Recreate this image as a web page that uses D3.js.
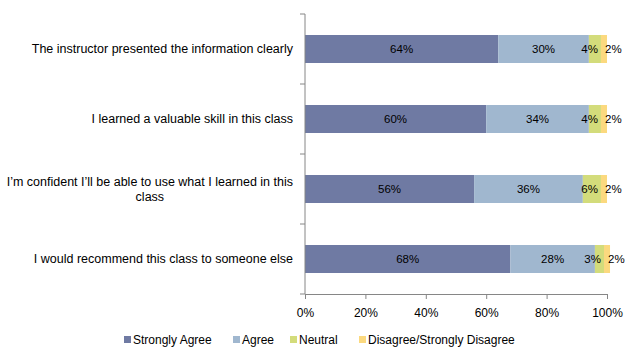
<!DOCTYPE html>
<html>
<head>
<meta charset="utf-8">
<script src="https://cdn.jsdelivr.net/npm/d3@7"></script>
<style>
  body { margin: 0; background: #fff; }
  text { font-family: "Liberation Sans", Arial, sans-serif; fill: #000; }
</style>
</head>
<body>
<div id="chart"></div>
<script>
// Chart size
var width = 637;
var height = 360;

// Survey data (percent of responses)
var categories = [
  "The instructor presented the information clearly",
  "I learned a valuable skill in this class",
  "I\u2019m confident I\u2019ll be able to use what I learned in this class",
  "I would recommend this class to someone else"
];
var seriesNames = ["Strongly Agree", "Agree", "Neutral", "Disagree/Strongly Disagree"];
var stronglyAgree = [64, 60, 56, 68];
var agree = [30, 34, 36, 28];
var neutral = [4, 4, 6, 3];
var disagree = [2, 2, 2, 2];
var xTicks = [0, 20, 40, 60, 80, 100];

var colors = ["#6f7aa3", "#a0b7cf", "#d3dc7b", "#fbd97f"];

var margin = { top: 14, left: 305, right: 30, bottom: 66 };

var svg = d3.select("#chart").append("svg")
  .attr("width", width)
  .attr("height", height);

svg.append("rect").attr("width", width).attr("height", height).attr("fill", "#fff");

var x = d3.scaleLinear()
  .domain([0, 100])
  .range([margin.left, 607]);

var y = d3.scaleBand()
  .domain(categories)
  .range([margin.top, height - margin.bottom])
  .paddingInner(0.6)
  .paddingOuter(0.3);

// Build rows for the stack layout
var rows = categories.map(function(c, i) {
  return {
    category: c,
    "Strongly Agree": stronglyAgree[i],
    "Agree": agree[i],
    "Neutral": neutral[i],
    "Disagree/Strongly Disagree": disagree[i]
  };
});

var stack = d3.stack().keys(seriesNames);
var layers = stack(rows);

var g = svg.append("g");

var layer = g.selectAll("g.layer")
  .data(layers)
  .enter().append("g")
  .attr("class", "layer")
  .attr("fill", function(d, i) { return colors[i]; });

layer.selectAll("rect")
  .data(function(d) { return d; })
  .enter().append("rect")
  .attr("x", function(d) { return x(d[0]); })
  .attr("width", function(d) { return x(d[1]) - x(d[0]); })
  .attr("y", function(d) { return y(d.data.category); })
  .attr("height", y.bandwidth());

// Value labels; the two small segments get nudged like Excel does
layer.selectAll("text")
  .data(function(d, i) { return d.map(function(p) { return { p: p, s: i }; }); })
  .enter().append("text")
  .attr("x", function(d) {
    if (d.s == 3) return x(d.p[1]) - 2;
    if (d.s == 2) return x(d.p[1]) - 3;
    return (x(d.p[0]) + x(d.p[1])) / 2;
  })
  .attr("y", function(d) { return y(d.p.data.category) + y.bandwidth() / 2; })
  .attr("dy", "0.35em")
  .attr("text-anchor", function(d) {
    if (d.s == 3) return "start";
    if (d.s == 2) return "end";
    return "middle";
  })
  .style("font-size", "11.5px")
  .text(function(d) { return (d.p[1] - d.p[0]) + "%"; });

// Y axis line and ticks at band boundaries
var axisColor = "#868686";
var y0 = margin.top, y1 = height - margin.bottom;
svg.append("line")
  .attr("x1", x(0)).attr("x2", x(0))
  .attr("y1", y0).attr("y2", y1)
  .attr("stroke", axisColor);

var bounds = d3.range(categories.length + 1).map(function(i) { return y0 + i * (y1 - y0) / categories.length; });
svg.selectAll("line.ytick")
  .data(bounds)
  .enter().append("line")
  .attr("class", "ytick")
  .attr("x1", x(0) - 5).attr("x2", x(0))
  .attr("y1", function(d) { return d; }).attr("y2", function(d) { return d; })
  .attr("stroke", axisColor);

// Category labels, wrapped and right aligned
var maxLabel = 290;
svg.selectAll("text.cat")
  .data(categories)
  .enter().append("text")
  .attr("class", "cat")
  .style("font-size", "12.5px")
  .each(function(d) {
    var t = d3.select(this);
    var words = d.split(" ");
    var lines = [];
    var line = [];
    var probe = t.append("tspan");
    words.forEach(function(w) {
      line.push(w);
      probe.text(line.join(" "));
      if (probe.node().getComputedTextLength() > maxLabel && line.length > 1) {
        line.pop();
        lines.push(line.join(" "));
        line = [w];
      }
    });
    lines.push(line.join(" "));
    probe.remove();
    var cy = y(d) + y.bandwidth() / 2;
    var lh = 15;
    var widest = 0;
    lines.forEach(function(l) {
      var s = t.append("tspan").text(l);
      widest = Math.max(widest, s.node().getComputedTextLength());
      s.remove();
    });
    var right = 293;
    lines.forEach(function(l, i) {
      var cx = lines.length > 1 ? right - widest / 2 : right;
      t.append("tspan")
        .attr("x", cx)
        .attr("y", cy + (i - (lines.length - 1) / 2) * lh)
        .attr("dy", "0.35em")
        .attr("text-anchor", lines.length > 1 ? "middle" : "end")
        .text(l);
    });
  });

// X axis
var xAxis = d3.axisBottom(x)
  .tickValues(xTicks)
  .tickSize(5)
  .tickFormat(function(d) { return d + "%"; });

var xg = svg.append("g")
  .attr("transform", "translate(0," + y1 + ")")
  .call(xAxis);
xg.select(".domain").attr("stroke", axisColor).attr("d", "M" + x(0) + ",0.5H" + x(100));
xg.selectAll(".tick line").attr("stroke", axisColor);
xg.selectAll(".tick text")
  .attr("y", 14)
  .style("font-size", "12px")
  .style("font-family", "Liberation Sans, Arial, sans-serif")
  .attr("fill", "#000");

// Legend
var legendX = [124, 233, 290, 359];
var legend = svg.selectAll("g.legend")
  .data(seriesNames)
  .enter().append("g")
  .attr("class", "legend")
  .attr("transform", function(d, i) { return "translate(" + legendX[i] + ",340)"; });

legend.append("rect")
  .attr("x", 0).attr("y", -4)
  .attr("width", 7).attr("height", 7)
  .attr("fill", function(d, i) { return colors[i]; });

legend.append("text")
  .attr("x", 9)
  .attr("y", 0)
  .attr("dy", "0.35em")
  .style("font-size", "12px")
  .text(function(d) { return d; });
</script>
</body>
</html>
